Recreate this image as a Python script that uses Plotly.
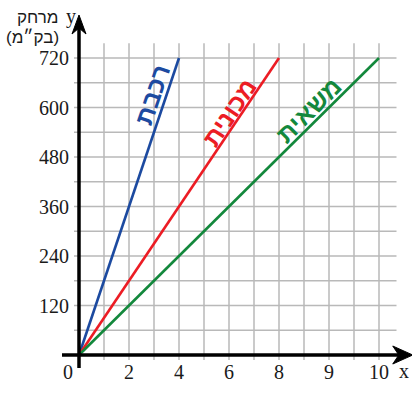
import plotly.graph_objects as go

# ---- data ----
series_names = ["רכבת", "מכונית", "משאית"]
series_colors = ["#1c4aa0", "#ec1c24", "#13883c"]
series_x_end = [4, 8, 12]          # grid position where each line reaches 720
series_y_end = [720, 720, 720]
x_tick_vals = [2, 4, 6, 8, 10, 12]
x_tick_text = ["2", "4", "6", "8", "9", "10"]
y_tick_vals = [120, 240, 360, 480, 600, 720]
x_grid = list(range(1, 13))
y_grid = list(range(60, 721, 60))
label_pos = [(2.93, 630), (6.0, 587), (9.2, 593)]
label_angle = [-71.4, -56.3, -45]

PXX = 25.0      # px per x unit
PXY = 0.4125    # px per y unit
W, H = 414, 402
ml, mr, mt, mb = 60, 2, 10, 30
x0px = 79 - ml
y0px = 355 - mt
pw, ph = W - ml - mr, H - mt - mb
xr = [-x0px / PXX, (pw - x0px) / PXX]
yr = [-(ph - y0px) / PXY, y0px / PXY]

fig = go.Figure()
shapes = []
grid_color = "#b9b9b9"
xmax_grid = 12.7
ymax_grid = 756
for gx in x_grid:
    shapes.append(dict(type="line", xref="x", yref="y", x0=gx, x1=gx, y0=-12, y1=ymax_grid,
                       line=dict(color=grid_color, width=1.5), layer="below"))
for gy in y_grid:
    shapes.append(dict(type="line", xref="x", yref="y", x0=-0.2, x1=xmax_grid, y0=gy, y1=gy,
                       line=dict(color=grid_color, width=1.5), layer="below"))

for name, col, xe, ye in zip(series_names, series_colors, series_x_end, series_y_end):
    fig.add_trace(go.Scatter(x=[0, xe], y=[0, ye], mode="lines", line=dict(color=col, width=2.6),
                             showlegend=False, hoverinfo="skip", cliponaxis=False))

# axes
ax_w = 3.5
x_tip = 13.35
y_tip = (355 - 15) / PXY
shapes.append(dict(type="line", xref="x", yref="y", x0=-0.68, x1=x_tip - 0.5, y0=0, y1=0,
                   line=dict(color="black", width=ax_w)))
shapes.append(dict(type="line", xref="x", yref="y", x0=0, x1=0, y0=-13 / PXY, y1=y_tip - 12 / PXY,
                   line=dict(color="black", width=ax_w)))
# arrow heads
al, aw, an = 20, 9, 14
shapes.append(dict(type="path", xref="x", yref="y",
                   path=f"M {x_tip},0 L {x_tip - al / PXX},{aw / PXY} L {x_tip - an / PXX},0 L {x_tip - al / PXX},{-aw / PXY} Z",
                   fillcolor="black", line=dict(color="black", width=1)))
al, aw, an = 19, 7, 13
shapes.append(dict(type="path", xref="x", yref="y",
                   path=f"M 0,{y_tip} L {aw / PXX},{y_tip - al / PXY} L 0,{y_tip - an / PXY} L {-aw / PXX},{y_tip - al / PXY} Z",
                   fillcolor="black", line=dict(color="black", width=1)))


def px2x(px):
    return (px - 79) / PXX


def px2y(py):
    return (355 - py) / PXY


ann = []
serif = "Liberation Serif, Times New Roman, serif"
sans = "Liberation Sans, Arial, DejaVu Sans, sans-serif"
for v in y_tick_vals:
    ann.append(dict(x=px2x(71), y=v, xref="x", yref="y", text=str(v), showarrow=False, xanchor="right",
                    yanchor="middle", font=dict(family=serif, size=20, color="#1a1a1a")))
for v, t in zip(x_tick_vals, x_tick_text):
    ann.append(dict(x=v, y=px2y(372), xref="x", yref="y", text=t, showarrow=False, xanchor="center",
                    yanchor="middle", font=dict(family=serif, size=20, color="#1a1a1a")))
ann.append(dict(x=px2x(68), y=px2y(372), xref="x", yref="y", text="0", showarrow=False, xanchor="center",
                yanchor="middle", font=dict(family=serif, size=20, color="#1a1a1a")))
ann.append(dict(x=px2x(404), y=px2y(371), xref="x", yref="y", text="x", showarrow=False, xanchor="center",
                yanchor="middle", font=dict(family=serif, size=20, color="#1a1a1a")))
ann.append(dict(x=px2x(411), y=px2y(393), xref="x", yref="y", text="זמן (בשעות)", showarrow=False,
                xanchor="right", yanchor="middle", font=dict(family=sans, size=16, color="#1a1a1a")))
ann.append(dict(x=px2x(71), y=px2y(16), xref="x", yref="y", text="y", showarrow=False,
                xanchor="center", yanchor="middle", font=dict(family=serif, size=20, color="#1a1a1a")))
ann.append(dict(x=px2x(60), y=px2y(17), xref="x", yref="y", text="מרחק", showarrow=False,
                xanchor="right", yanchor="middle", font=dict(family=sans, size=17, color="#1a1a1a")))
ann.append(dict(x=px2x(61), y=px2y(37), xref="x", yref="y", text="(בק״מ)", showarrow=False,
                xanchor="right", yanchor="middle", font=dict(family=sans, size=17, color="#1a1a1a")))
for name, col, (lx, ly), ang in zip(series_names, series_colors, label_pos, label_angle):
    ann.append(dict(x=lx, y=ly, xref="x", yref="y", text=f"<b>{name}</b>", showarrow=False,
                    textangle=ang, xanchor="center", yanchor="middle",
                    font=dict(family=sans, size=25, color=col)))

fig.update_layout(
    width=W, height=H, margin=dict(l=ml, r=mr, t=mt, b=mb),
    paper_bgcolor="white", plot_bgcolor="white",
    xaxis=dict(range=xr, visible=False, fixedrange=True),
    yaxis=dict(range=yr, visible=False, fixedrange=True),
    shapes=shapes, annotations=ann,
)
fig.write_html("out.html", config={"displayModeBar": False},
               post_script="document.body.style.margin='0';document.body.style.overflow='hidden';")
